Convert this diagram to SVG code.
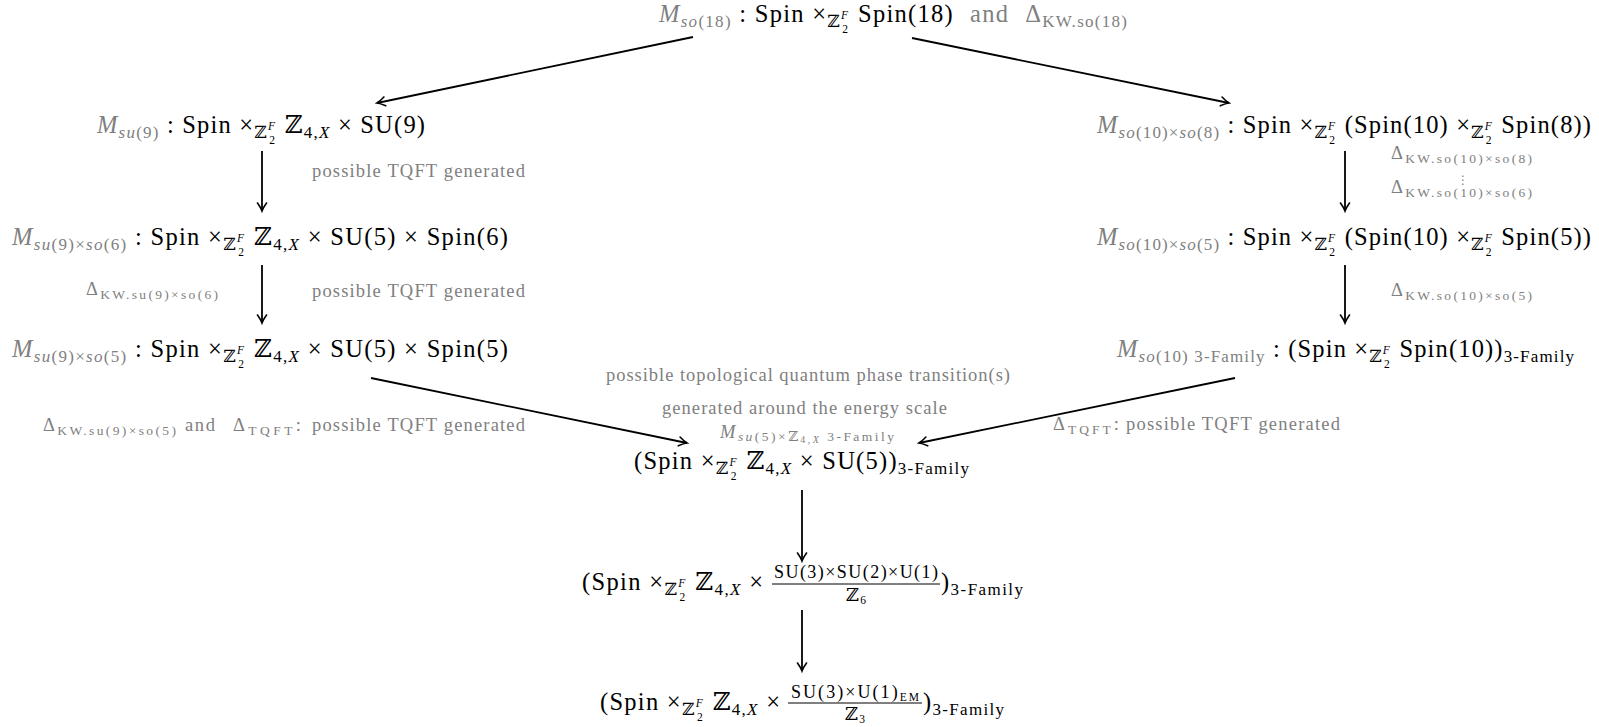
<svg xmlns="http://www.w3.org/2000/svg" width="1599" height="727" viewBox="0 0 1599 727">
<style>
text{font-family:"Liberation Serif","DejaVu Serif","DejaVu Sans",serif;}
.t{font-size:24.5px;fill:#000}
.g{fill:#808080}
.i{font-style:italic}
.sb{font-size:17px}
.sp{font-size:11.5px}
.fr{font-size:18px;fill:#000}
.l{font-size:18.5px;fill:#808080}
.ls{font-size:13.5px}
.lss{font-size:10px}
.c{stroke:#000;stroke-width:1.8;fill:none;marker-end:url(#ah)}
.bar{stroke:#000;stroke-width:1}
</style>
<defs>
<marker id="ah" viewBox="-10 -6 12 12" refX="0" refY="0" markerWidth="12" markerHeight="12" orient="auto" markerUnits="userSpaceOnUse">
<path d="M-8,-4.5 Q-3,-1 0,0 Q-3,1 -8,4.5" fill="none" stroke="#000" stroke-width="1.6" stroke-linecap="round"/>
</marker>
</defs>
<rect width="1599" height="727" fill="#fff"/>

<g id="connectors">
<line class="c" x1="693" y1="37" x2="377" y2="103"/>
<line class="c" x1="912" y1="38" x2="1229" y2="103"/>
<line class="c" x1="262" y1="151" x2="262" y2="211"/>
<line class="c" x1="262" y1="265" x2="262" y2="323"/>
<line class="c" x1="1345" y1="151" x2="1345" y2="211"/>
<line class="c" x1="1345" y1="265" x2="1345" y2="323"/>
<line class="c" x1="371" y1="378" x2="687" y2="443"/>
<line class="c" x1="1235" y1="378" x2="919" y2="443"/>
<line class="c" x1="802" y1="490" x2="802" y2="561"/>
<line class="c" x1="802" y1="610" x2="802" y2="671"/>
</g>

<g id="node-so18">
<text class="t" x="659" y="22" textLength="468"><tspan class="g i">M</tspan><tspan class="g i sb" dy="5">so</tspan><tspan class="g sb">(18)</tspan><tspan dy="-5"> : Spin ×</tspan><tspan class="sb" dy="5">ℤ</tspan><tspan class="sp i" dy="-8.5">F</tspan><tspan class="sp" dx="-7" dy="14">2</tspan><tspan dx="1.3" dy="-10.5"> Spin(18)</tspan><tspan class="g" dx="16">and</tspan><tspan class="g" dx="16">Δ</tspan><tspan class="g sb" dy="5">KW.so(18)</tspan></text>
</g>

<g id="node-su9">
<text class="t" x="97" y="133" textLength="328"><tspan class="g i">M</tspan><tspan class="g i sb" dy="5">su</tspan><tspan class="g sb">(9)</tspan><tspan dy="-5"> : Spin ×</tspan><tspan class="sb" dy="5">ℤ</tspan><tspan class="sp i" dy="-8.5">F</tspan><tspan class="sp" dx="-7" dy="14">2</tspan><tspan dx="1.3" dy="-10.5"> ℤ</tspan><tspan class="sb" dy="5">4,</tspan><tspan class="sb i">X</tspan><tspan dy="-5"> × SU(9)</tspan></text>
</g>

<g id="node-su9so6">
<text class="t" x="12" y="245" textLength="496"><tspan class="g i">M</tspan><tspan class="g i sb" dy="5">su</tspan><tspan class="g sb">(9)×</tspan><tspan class="g i sb">so</tspan><tspan class="g sb">(6)</tspan><tspan dy="-5"> : Spin ×</tspan><tspan class="sb" dy="5">ℤ</tspan><tspan class="sp i" dy="-8.5">F</tspan><tspan class="sp" dx="-7" dy="14">2</tspan><tspan dx="1.3" dy="-10.5"> ℤ</tspan><tspan class="sb" dy="5">4,</tspan><tspan class="sb i">X</tspan><tspan dy="-5"> × SU(5) × Spin(6)</tspan></text>
</g>

<g id="node-su9so5">
<text class="t" x="12" y="357" textLength="496"><tspan class="g i">M</tspan><tspan class="g i sb" dy="5">su</tspan><tspan class="g sb">(9)×</tspan><tspan class="g i sb">so</tspan><tspan class="g sb">(5)</tspan><tspan dy="-5"> : Spin ×</tspan><tspan class="sb" dy="5">ℤ</tspan><tspan class="sp i" dy="-8.5">F</tspan><tspan class="sp" dx="-7" dy="14">2</tspan><tspan dx="1.3" dy="-10.5"> ℤ</tspan><tspan class="sb" dy="5">4,</tspan><tspan class="sb i">X</tspan><tspan dy="-5"> × SU(5) × Spin(5)</tspan></text>
</g>

<g id="node-so10so8">
<text class="t" x="1097" y="133" textLength="494"><tspan class="g i">M</tspan><tspan class="g i sb" dy="5">so</tspan><tspan class="g sb">(10)×</tspan><tspan class="g i sb">so</tspan><tspan class="g sb">(8)</tspan><tspan dy="-5"> : Spin ×</tspan><tspan class="sb" dy="5">ℤ</tspan><tspan class="sp i" dy="-8.5">F</tspan><tspan class="sp" dx="-7" dy="14">2</tspan><tspan dx="1.3" dy="-10.5"> (Spin(10) ×</tspan><tspan class="sb" dy="5">ℤ</tspan><tspan class="sp i" dy="-8.5">F</tspan><tspan class="sp" dx="-7" dy="14">2</tspan><tspan dx="1.3" dy="-10.5"> Spin(8))</tspan></text>
</g>

<g id="node-so10so5">
<text class="t" x="1097" y="245" textLength="494"><tspan class="g i">M</tspan><tspan class="g i sb" dy="5">so</tspan><tspan class="g sb">(10)×</tspan><tspan class="g i sb">so</tspan><tspan class="g sb">(5)</tspan><tspan dy="-5"> : Spin ×</tspan><tspan class="sb" dy="5">ℤ</tspan><tspan class="sp i" dy="-8.5">F</tspan><tspan class="sp" dx="-7" dy="14">2</tspan><tspan dx="1.3" dy="-10.5"> (Spin(10) ×</tspan><tspan class="sb" dy="5">ℤ</tspan><tspan class="sp i" dy="-8.5">F</tspan><tspan class="sp" dx="-7" dy="14">2</tspan><tspan dx="1.3" dy="-10.5"> Spin(5))</tspan></text>
</g>

<g id="node-so10-3fam">
<text class="t" x="1117" y="357" textLength="457"><tspan class="g i">M</tspan><tspan class="g i sb" dy="5">so</tspan><tspan class="g sb">(10) 3-Family</tspan><tspan dy="-5"> : (Spin ×</tspan><tspan class="sb" dy="5">ℤ</tspan><tspan class="sp i" dy="-8.5">F</tspan><tspan class="sp" dx="-7" dy="14">2</tspan><tspan dx="1.3" dy="-10.5"> Spin(10))</tspan><tspan class="sb" dy="5">3-Family</tspan></text>
</g>

<g id="node-su5-3fam">
<text class="t" x="634" y="469" textLength="335"><tspan>(Spin ×</tspan><tspan class="sb" dy="5">ℤ</tspan><tspan class="sp i" dy="-8.5">F</tspan><tspan class="sp" dx="-7" dy="14">2</tspan><tspan dx="1.3" dy="-10.5"> ℤ</tspan><tspan class="sb" dy="5">4,</tspan><tspan class="sb i">X</tspan><tspan dy="-5"> × SU(5))</tspan><tspan class="sb" dy="5">3-Family</tspan></text>
</g>

<g id="node-sm">
<text class="t" x="582" y="590" textLength="181"><tspan>(Spin ×</tspan><tspan class="sb" dy="5">ℤ</tspan><tspan class="sp i" dy="-8.5">F</tspan><tspan class="sp" dx="-7" dy="14">2</tspan><tspan dx="1.3" dy="-10.5"> ℤ</tspan><tspan class="sb" dy="5">4,</tspan><tspan class="sb i">X</tspan><tspan dy="-5"> ×</tspan></text>
<text class="fr" x="856" y="578" text-anchor="middle" textLength="164">SU(3)×SU(2)×U(1)</text>
<line class="bar" x1="772" y1="584" x2="940" y2="584"/>
<text class="fr" x="856" y="601" text-anchor="middle">ℤ<tspan class="sp" dx="1" dy="3">6</tspan></text>
<text class="t" x="941" y="590" textLength="82"><tspan>)</tspan><tspan class="sb" dy="5">3-Family</tspan></text>
</g>

<g id="node-em">
<text class="t" x="600" y="710" textLength="180"><tspan>(Spin ×</tspan><tspan class="sb" dy="5">ℤ</tspan><tspan class="sp i" dy="-8.5">F</tspan><tspan class="sp" dx="-7" dy="14">2</tspan><tspan dx="1.3" dy="-10.5"> ℤ</tspan><tspan class="sb" dy="5">4,</tspan><tspan class="sb i">X</tspan><tspan dy="-5"> ×</tspan></text>
<text class="fr" x="855" y="698" text-anchor="middle" textLength="128">SU(3)×U(1)<tspan class="sp" dy="3">EM</tspan></text>
<line class="bar" x1="788" y1="703" x2="922" y2="703"/>
<text class="fr" x="855" y="720" text-anchor="middle">ℤ<tspan class="sp" dx="1" dy="3">3</tspan></text>
<text class="t" x="923" y="710" textLength="81"><tspan>)</tspan><tspan class="sb" dy="5">3-Family</tspan></text>
</g>

<g id="labels">
<text class="l" x="312" y="177" textLength="213">possible TQFT generated</text>
<text class="l" x="86" y="295" textLength="132">Δ<tspan class="ls" dy="4">KW.su(9)×so(6)</tspan></text>
<text class="l" x="312" y="297" textLength="213">possible TQFT generated</text>
<text class="l" x="43" y="431" textLength="133">Δ<tspan class="ls" dy="4">KW.su(9)×so(5)</tspan></text>
<text class="l" x="185" y="431" textLength="30">and</text>
<text class="l" x="233" y="431" textLength="68">Δ<tspan class="ls" dy="4">TQFT</tspan><tspan dy="-4">:</tspan></text>
<text class="l" x="312" y="431" textLength="213">possible TQFT generated</text>
<text class="l" x="1391" y="159" textLength="141">Δ<tspan class="ls" dy="4">KW.so(10)×so(8)</tspan></text>
<text class="l" x="1463" y="184" text-anchor="middle" style="font-size:12px">⋮</text>
<text class="l" x="1391" y="193" textLength="141">Δ<tspan class="ls" dy="4">KW.so(10)×so(6)</tspan></text>
<text class="l" x="1391" y="296" textLength="141">Δ<tspan class="ls" dy="4">KW.so(10)×so(5)</tspan></text>
<text class="l" x="1053" y="430" textLength="66">Δ<tspan class="ls" dy="4">TQFT</tspan><tspan dy="-4">:</tspan></text>
<text class="l" x="1126" y="430" textLength="214">possible TQFT generated</text>
<text class="l" x="606" y="381" textLength="404">possible topological quantum phase transition(s)</text>
<text class="l" x="662" y="414" textLength="285">generated around the energy scale</text>
<text class="l" x="720" y="438" textLength="174"><tspan class="i">M</tspan><tspan class="ls i" dy="3">su</tspan><tspan class="ls">(5)×ℤ</tspan><tspan class="lss" dy="2">4,</tspan><tspan class="lss i">X</tspan><tspan class="ls" dy="-2"> 3-Family</tspan></text>
</g>
</svg>
